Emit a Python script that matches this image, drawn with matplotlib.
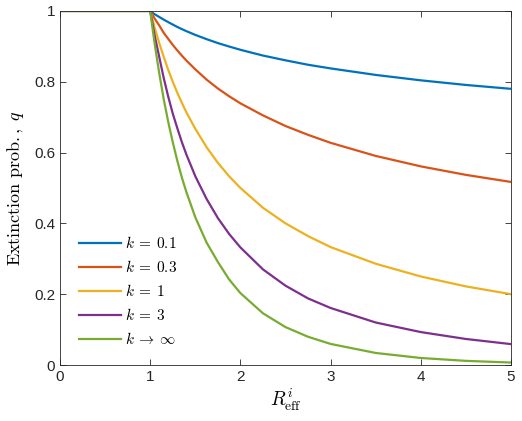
import matplotlib
matplotlib.use("Agg")
import matplotlib.pyplot as plt

# values
r_eff = [0, 1, 1.025, 1.05, 1.1, 1.15, 1.2, 1.25, 1.3, 1.35, 1.4, 1.5, 1.625, 1.75, 1.875,
         2, 2.25, 2.5, 2.75, 3, 3.5, 4, 4.5, 5]
q_k01 = [1, 1, 0.995, 0.9905, 0.983, 0.9754, 0.9683, 0.9615, 0.9548, 0.9488, 0.943, 0.9323, 0.9203, 0.9092, 0.8995,
         0.8903, 0.874, 0.8605, 0.848, 0.8377, 0.8193, 0.804, 0.791, 0.780]
q_k03 = [1, 1, 0.989, 0.978, 0.959, 0.938, 0.921, 0.904, 0.8885, 0.874, 0.860, 0.835, 0.806, 0.781, 0.759,
         0.739, 0.705, 0.675, 0.650, 0.6275, 0.5905, 0.561, 0.537, 0.517]
q_k1 = [1, 1, 0.976, 0.952, 0.909, 0.870, 0.833, 0.800, 0.769, 0.741, 0.714, 0.667, 0.615, 0.571, 0.533,
        0.500, 0.444, 0.400, 0.364, 0.333, 0.286, 0.250, 0.222, 0.200]
q_k3 = [1, 1, 0.964, 0.929, 0.870, 0.810, 0.7575, 0.710, 0.669, 0.630, 0.595, 0.533, 0.469, 0.415, 0.370,
        0.332, 0.270, 0.224, 0.188, 0.161, 0.120, 0.093, 0.0735, 0.059]
q_kinf = [1, 1, 0.952, 0.906, 0.824, 0.750, 0.686, 0.629, 0.577, 0.530, 0.489, 0.417, 0.3457, 0.291, 0.2415,
          0.203, 0.146, 0.107, 0.0797, 0.0595, 0.034, 0.0198, 0.0117, 0.007]

labels = [r"$k\:=\:0.1$", r"$k\:=\:0.3$", r"$k\:=\:1$", r"$k\:=\:3$", r"$k\:\rightarrow\:\infty$"]
colors = ["#0072BD", "#D95319", "#EDB120", "#7E2F8E", "#77AC30"]

plt.rcParams["mathtext.fontset"] = "cm"
plt.rcParams["font.family"] = ["Liberation Sans", "DejaVu Sans"]

fig = plt.figure(figsize=(5.22, 4.21), dpi=100)
ax = fig.add_axes([0.115, 0.133, 0.864, 0.841])

for q, lab, c in zip([q_k01, q_k03, q_k1, q_k3, q_kinf], labels, colors):
    ax.plot(r_eff, q, color=c, lw=1.6, label=lab)

ax.set_xlim(0, 5)
ax.set_ylim(0, 1)
ax.set_xticks([0, 1, 2, 3, 4, 5])
ax.set_yticks([0, 0.2, 0.4, 0.6, 0.8, 1])
ax.set_yticklabels(["0", "0.2", "0.4", "0.6", "0.8", "1"])
ax.tick_params(direction="in", top=True, right=True, labelsize=11, length=4, width=0.6, colors="#262626")
for s in ax.spines.values():
    s.set_linewidth(0.6)
    s.set_color("#262626")

ax.set_xlabel(r"$R^{i}_{\mathrm{eff}}$", fontsize=14, labelpad=2)
ax.set_ylabel(r"$\mathrm{Extinction\ prob.,}\ q$", fontsize=13, labelpad=6)

leg = ax.legend(loc="lower left", bbox_to_anchor=(0.012, 0.012), frameon=False, fontsize=11,
                handlelength=2.75, labelspacing=0.52, handletextpad=0.25)

fig.savefig("out.png", dpi=100)
